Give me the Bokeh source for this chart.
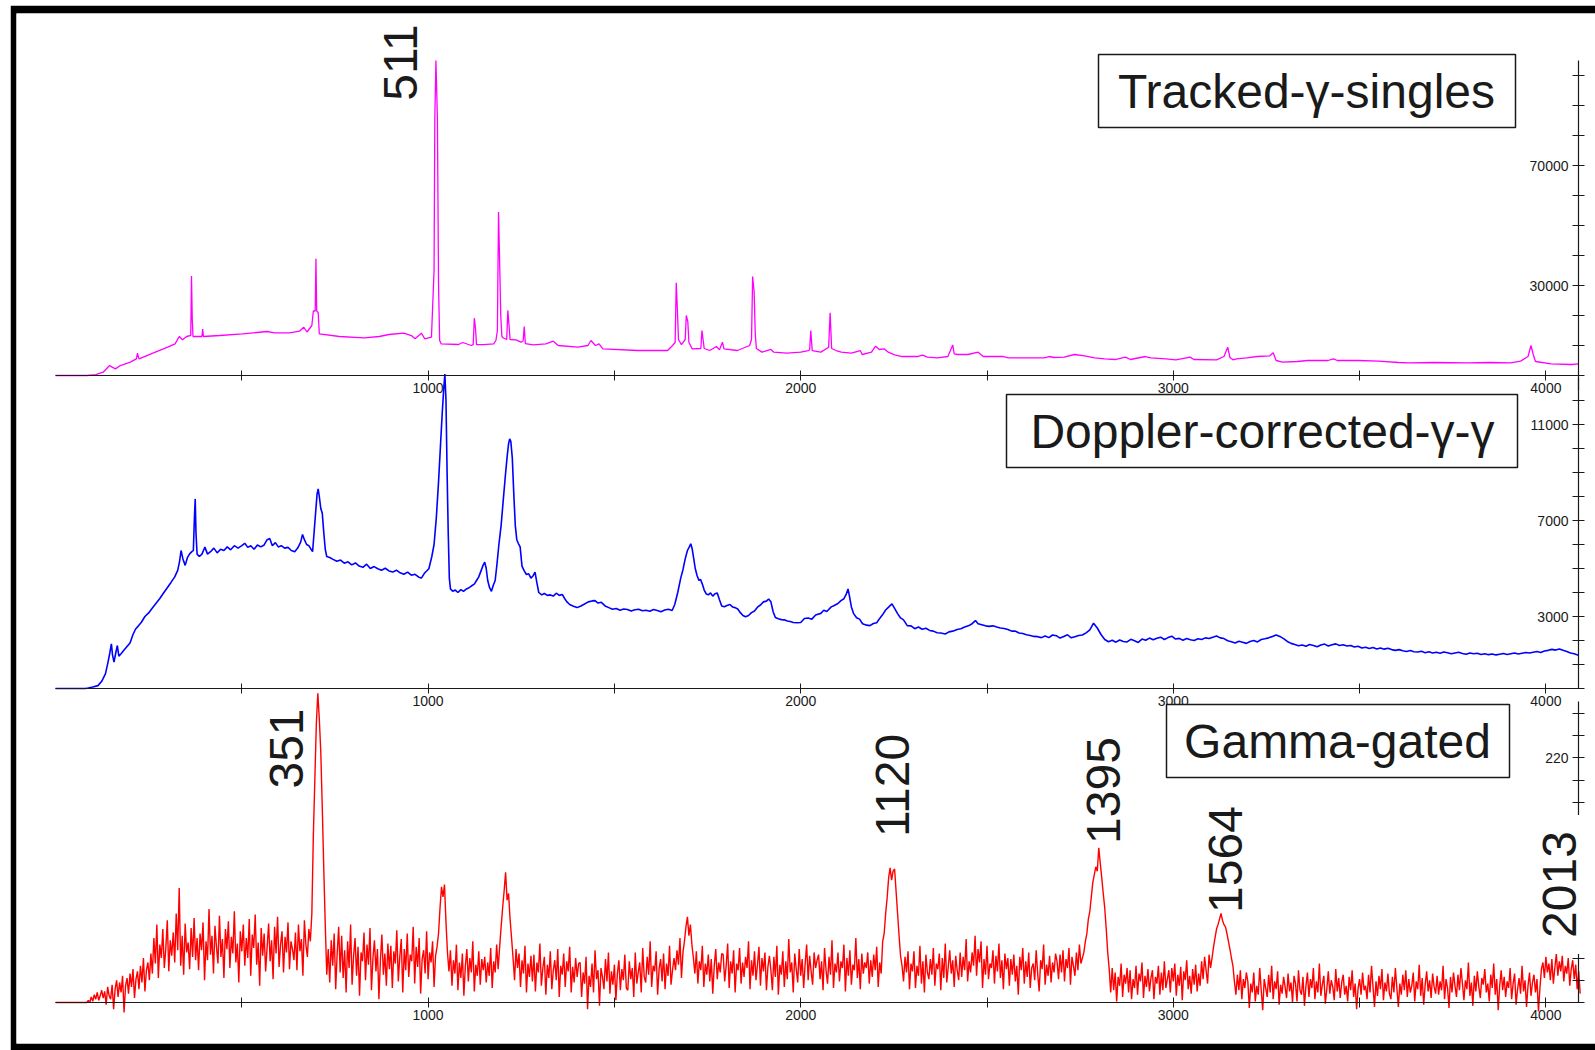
from math import pi
from bokeh.plotting import figure
from bokeh.models import Range1d, LinearAxis, FixedTicker, Label, BoxAnnotation
from bokeh.embed import file_html
from bokeh.resources import INLINE

# ---------------- data (channels, counts) ----------------
mag_ch = [
    0, 85, 108, 128, 145, 152, 161, 174, 201, 217,
    220, 224, 268, 301, 321, 332, 341, 352, 361, 363,
    365, 367, 369, 393, 395, 397, 441, 502, 568, 588,
    628, 655, 666, 675, 688, 692, 697, 699, 701, 705,
    708, 762, 828, 869, 895, 935, 955, 965, 982, 991,
    1009, 1016, 1018, 1021, 1025, 1028, 1031, 1035, 1082, 1093,
    1116, 1121, 1124, 1127, 1130, 1149, 1176, 1182, 1186, 1189,
    1192, 1195, 1198, 1202, 1211, 1214, 1217, 1220, 1236, 1249,
    1255, 1258, 1261, 1282, 1316, 1336, 1349, 1402, 1429, 1437,
    1449, 1459, 1469, 1563, 1643, 1656, 1663, 1666, 1669, 1672,
    1680, 1690, 1693, 1697, 1700, 1709, 1732, 1735, 1738, 1741,
    1756, 1774, 1782, 1790, 1794, 1830, 1863, 1868, 1871, 1875,
    1878, 1881, 1896, 1920, 1928, 1963, 2000, 2020, 2024, 2027,
    2031, 2054, 2075, 2079, 2083, 2095, 2109, 2136, 2160, 2165,
    2190, 2201, 2211, 2224, 2235, 2252, 2272, 2313, 2327, 2340,
    2367, 2395, 2408, 2412, 2422, 2449, 2476, 2490, 2544, 2558,
    2653, 2667, 2680, 2707, 2735, 2762, 2789, 2816, 2844, 2871,
    2885, 2925, 2940, 2980, 3007, 3045, 3055, 3116, 3136, 3146,
    3152, 3160, 3170, 3197, 3225, 3259, 3268, 3276, 3293, 3333,
    3361, 3415, 3430, 3440, 3497, 3551, 3605, 3633, 3700, 3790,
    3850, 3905, 3932, 3952, 3960, 3966, 3972, 4014, 4068, 4087,
]
mag_counts = [
    0, 0, 300, 1100, 3330, 2780, 2220, 3330, 4440, 5560,
    7450, 5560, 7780, 9440, 10560, 13000, 11900, 13000, 13300, 13300,
    33200, 19000, 13000, 13000, 15500, 13000, 13330, 13900, 14670, 14200,
    14220, 14780, 16100, 14500, 16670, 21500, 21500, 38900, 21500, 21000,
    13900, 13000, 12560, 13000, 13670, 14100, 13300, 12240, 14100, 12240,
    12780, 35000, 85560, 105000, 85560, 30560, 11670, 10560, 10330, 11000,
    10000, 10300, 19100, 16000, 10300, 10300, 10560, 11670, 15000, 54500,
    38000, 20000, 13000, 12500, 12000, 21700, 17000, 12000, 11900, 11100,
    11500, 16300, 10600, 10200, 10560, 11440, 10000, 9440, 10000, 11670,
    10000, 10560, 8890, 8330, 8330, 10000, 11000, 30900, 22000, 12000,
    10300, 12000, 20000, 18000, 11000, 8890, 9000, 15000, 12000, 9000,
    8330, 9670, 8560, 11100, 8900, 8330, 10000, 12000, 33000, 28000,
    14000, 9000, 7780, 8670, 7780, 7450, 7780, 8330, 8500, 15000,
    8300, 7780, 9440, 20900, 9000, 8330, 7780, 7450, 8330, 7000,
    7780, 9780, 8670, 8890, 7780, 6890, 6330, 6330, 6780, 6110,
    5890, 6330, 10200, 7200, 7000, 7000, 7780, 6330, 6330, 5890,
    5890, 6330, 6000, 6110, 7000, 6560, 5890, 5560, 5330, 6110,
    5330, 6330, 5890, 5560, 5220, 6110, 5330, 5220, 6330, 9440,
    6000, 5220, 5560, 5890, 6330, 6560, 7560, 5000, 4450, 4670,
    5000, 5000, 5560, 5000, 5000, 4780, 4330, 4220, 4330, 4220,
    4330, 4220, 4780, 6330, 10000, 7000, 4670, 3890, 3670, 3890,
]

blue_ch = [
    0, 80, 88, 100, 114, 124, 134, 141, 146, 150,
    153, 157, 162, 166, 170, 176, 184, 192, 200, 208,
    215, 222, 230, 240, 250, 260, 270, 280, 290, 300,
    310, 320, 328, 333, 337, 342, 348, 354, 360, 366,
    370, 373, 375, 377, 380, 386, 393, 401, 408, 416,
    425, 434, 443, 452, 461, 470, 480, 490, 500, 508,
    516, 524, 533, 542, 551, 560, 568, 575, 582, 590,
    598, 606, 615, 624, 633, 642, 650, 658, 663, 668,
    674, 680, 686, 690, 694, 698, 702, 705, 708, 712,
    716, 720, 724, 728, 736, 745, 755, 765, 775, 785,
    795, 805, 815, 825, 835, 845, 855, 865, 875, 885,
    895, 905, 915, 925, 935, 945, 955, 965, 975, 982,
    990, 1002, 1010, 1016, 1022, 1028, 1033, 1038, 1042, 1045,
    1048, 1051, 1054, 1057, 1060, 1066, 1073, 1080, 1088, 1095,
    1103, 1110, 1117, 1124, 1130, 1136, 1142, 1148, 1152, 1156,
    1160, 1165, 1170, 1175, 1180, 1185, 1190, 1196, 1202, 1207,
    1212, 1216, 1219, 1222, 1226, 1230, 1234, 1238, 1242, 1247,
    1252, 1258, 1264, 1270, 1276, 1282, 1287, 1292, 1297, 1305,
    1312, 1320, 1328, 1336, 1344, 1352, 1360, 1366, 1372, 1380,
    1390, 1400, 1410, 1420, 1430, 1440, 1448, 1456, 1465, 1475,
    1485, 1495, 1505, 1515, 1525, 1535, 1545, 1555, 1565, 1575,
    1585, 1595, 1605, 1615, 1625, 1635, 1645, 1655, 1662, 1670,
    1678, 1684, 1690, 1696, 1701, 1705, 1709, 1713, 1717, 1722,
    1727, 1731, 1736, 1741, 1746, 1752, 1758, 1764, 1770, 1776,
    1782, 1788, 1795, 1802, 1810, 1817, 1824, 1831, 1838, 1845,
    1852, 1860, 1868, 1876, 1884, 1892, 1900, 1908, 1914, 1920,
    1926, 1932, 1940, 1948, 1956, 1964, 1972, 1980, 1990, 2000,
    2010, 2020, 2030, 2040, 2054, 2062, 2070, 2082, 2090, 2100,
    2108, 2116, 2122, 2127, 2131, 2136, 2142, 2150, 2158, 2166,
    2177, 2186, 2195, 2204, 2212, 2220, 2228, 2236, 2245, 2252,
    2260, 2268, 2276, 2286, 2296, 2306, 2316, 2326, 2336, 2346,
    2356, 2366, 2376, 2388, 2398, 2408, 2420, 2430, 2440, 2450,
    2460, 2469, 2476, 2486, 2496, 2506, 2516, 2526, 2536, 2546,
    2556, 2566, 2576, 2586, 2596, 2606, 2616, 2626, 2636, 2646,
] + list(range(2656, 4077, 10)) + [4087]
blue_counts = [
    0, 0, 20, 60, 120, 300, 610, 1100, 1500, 1860,
    1400, 1100, 1500, 1790, 1350, 1450, 1600, 1750, 1900, 2250,
    2480, 2600, 2750, 3000, 3150, 3350, 3550, 3750, 3980, 4200,
    4420, 4650, 4920, 5300, 5750, 5400, 5130, 5450, 5610, 5700,
    5750, 7200, 7900, 6500, 5600, 5500, 5600, 5890, 5600, 5700,
    5850, 5650, 5800, 5750, 5900, 5780, 5950, 5850, 5950, 6050,
    5880, 5950, 5800, 5980, 5900, 5980, 6200, 6250, 5950, 6080,
    5900, 5950, 5850, 5880, 5750, 5700, 5850, 6100, 6420, 6200,
    6000, 5950, 5800, 5700, 6500, 7300, 8100, 8320, 8000, 7500,
    7300, 6500, 5800, 5500, 5460, 5380, 5300, 5350, 5220, 5280,
    5150, 5230, 5100, 5050, 5180, 5000, 5080, 4990, 4930, 5010,
    4900, 4850, 4930, 4820, 4760, 4850, 4720, 4760, 4640, 4600,
    4800, 4990, 5500, 6000, 7100, 8600, 10050, 11500, 12500, 13100,
    12000, 9000, 6500, 4600, 4150, 4050, 4100, 4000, 4120, 4050,
    4150, 4200, 4280, 4350, 4500, 4650, 4900, 5150, 5260, 5000,
    4500, 4200, 4050, 4300, 4500, 5200, 6000, 6800, 7900, 8800,
    9640, 10200, 10400, 10300, 9600, 8100, 6800, 6200, 6050, 5900,
    5100, 4900, 4750, 4780, 4600, 4700, 4850, 4400, 4000, 3900,
    3960, 3880, 3900, 3850, 3970, 3880, 3920, 3760, 3620, 3500,
    3430, 3370, 3440, 3520, 3610, 3650, 3660, 3560, 3590, 3440,
    3370, 3300, 3330, 3260, 3310, 3290, 3230, 3280, 3300, 3240,
    3260, 3220, 3290, 3250, 3200, 3270, 3300, 3250, 3500, 4000,
    4600, 4950, 5400, 5750, 5900, 6030, 5800, 5400, 5000, 4700,
    4500, 4550, 4350, 4100, 3950, 3900, 3980, 3850, 3950, 3980,
    3700, 3440, 3410, 3460, 3500, 3400, 3370, 3310, 3160, 3040,
    2990, 3040, 3160, 3230, 3390, 3480, 3610, 3640, 3730, 3610,
    3200, 2960, 2910, 2870, 2860, 2810, 2790, 2750, 2740, 2750,
    2920, 2940, 2890, 3060, 3130, 3260, 3210, 3400, 3460, 3540,
    3660, 3740, 3920, 4150, 3840, 3400, 3120, 2950, 2890, 2700,
    2640, 2620, 2710, 2740, 2920, 3080, 3270, 3390, 3530, 3340,
    3120, 2940, 2860, 2620, 2610, 2490, 2560, 2470, 2510, 2420,
    2390, 2320, 2310, 2270, 2360, 2390, 2460, 2490, 2560, 2610,
    2700, 2830, 2700, 2660, 2610, 2590, 2610, 2560, 2520, 2500,
    2460, 2390, 2390, 2310, 2290, 2240, 2210, 2170, 2160, 2120,
    2190, 2120, 2230, 2200, 2100, 2170, 2240, 2110, 2160, 2210,
    2230, 2320, 2440, 2720, 2520, 2250, 2040, 1950, 2010, 1930,
    2020, 1960, 1940, 2050, 1990, 1920, 2060, 2010, 2100, 2030,
    2090, 2140, 2040, 2120, 2180, 2060, 2090, 2010, 2080, 2030,
    2000, 2070, 2040, 2110, 2080, 2140, 2190, 2110, 2080, 1990,
    1950, 1900, 1970, 1930, 1880, 1960, 2000, 1940, 2040, 2070,
    2110, 2170, 2230, 2170, 2080, 1960, 1880, 1830, 1780, 1810,
    1760, 1830, 1790, 1740, 1810, 1850, 1770, 1820, 1860, 1790,
    1820, 1770, 1790, 1730, 1760, 1690, 1720, 1670, 1710, 1650,
    1690, 1640, 1680, 1620, 1590, 1620, 1570, 1540, 1580, 1530,
    1520, 1550, 1490, 1530, 1480, 1510, 1470, 1520, 1490, 1450,
    1480, 1510, 1460, 1430, 1480, 1450, 1470, 1420, 1450, 1410,
    1440, 1400, 1430, 1460, 1420, 1450, 1480, 1440, 1470, 1500,
    1480, 1510, 1540, 1500, 1560, 1590, 1630, 1600, 1650, 1590,
    1540, 1480, 1450, 1390,
]

red_ch = list(range(0, 4096, 4))
red_counts = [
    0, 0, 0, 0, 0, 0, 0, 0, 0, 0, 0, 0, 0, 0, 0, 0, 0, 0, 0, 0, 0, 0, 2, 0, 5, 1, 7, 3, 9, 2, 6, 11,
    4, 10, -2, 14, 6, 3, 16, -6, 12, 20, 5, 18, 9, 24, -9, 15, 22, 8, 26, 14, 30, 4, 21, 28, 12, 33, 18, 40, 10, 29, 36, 20,
    44, 26, 58, 35, 70, 22, 52, 40, 66, 31, 48, 74, 28, 56, 42, 63, 36, 80, 47, 103, 33, 60, 25, 71, 45, 54, 30, 67, 41, 76, 38, 58,
    29, 62, 47, 72, 20, 55, 38, 84, 43, 60, 26, 69, 50, 35, 78, 41, 57, 22, 66, 48, 73, 31, 59, 44, 82, 36, 53, 18, 64, 46, 70, 33,
    58, 40, 75, 24, 61, 49, 79, 34, 54, 15, 67, 42, 62, 28, 50, 71, 37, 56, 21, 68, 44, 77, 32, 52, 64, 27, 59, 45, 72, 30, 55, 48,
    38, 63, 29, 70, 46, 57, 24, 74, 52, 41, 66, 55, 80, 150, 200, 250, 278, 255, 225, 175, 120, 70, 25, 48, 18, 56, 33, 62, 12, 44, 68, 27,
    60, 22, 47, 9, 55, 31, 70, 16, 42, 58, 24, 50, 6, 45, 37, 63, 20, 52, 34, 67, 11, 40, 56, 28, 48, 3, 38, 61, 25, 44, 15, 53,
    30, 51, 13, 46, 35, 65, 19, 41, 57, 9, 48, 29, 62, 23, 43, 37, 68, 17, 50, 32, 58, 8, 39, 47, 26, 64, 21, 45, 36, 55, 14, 42,
    50, 62, 85, 104, 95, 106, 72, 45, 28, 47, 15, 38, 26, 52, 11, 36, 22, 44, 6, 33, 48, 19, 40, 27, 55, 10, 34, 24, 46, 16, 39, 29,
    41, 18, 36, 24, 49, 13, 37, 27, 52, 30, 50, 68, 85, 100, 117, 92, 98, 75, 58, 40, 20, 48, 31, 44, 14, 38, 26, 51, 9, 35, 23, 42,
    19, 43, 10, 36, 27, 53, 15, 31, 41, 7, 34, 22, 46, 12, 29, 38, 20, 48, 5, 33, 25, 44, 14, 37, 28, 50, 9, 32, 18, 40, 23, 35,
    36, 5, 27, 17, 41, -6, 24, 14, 35, 9, 47, 21, 29, -3, 31, 23, 12, 39, 19, 45, 8, 28, 16, 34, 2, 26, 38, 11, 30, 20, 43, 13,
    11, 37, 21, 31, 5, 45, 17, 27, 36, 9, 49, 23, 18, 41, 25, 55, 14, 33, 28, 46, 7, 30, 39, 19, 44, 12, 35, 24, 51, 16, 29, 40,
    29, 47, 34, 58, 22, 45, 55, 68, 77, 60, 70, 52, 40, 26, 46, 17, 37, 29, 51, 14, 35, 25, 43, 19, 39, 8, 33, 48, 21, 36, 27, 44,
    43, 19, 33, 53, 13, 37, 26, 47, 9, 35, 29, 49, 17, 36, 23, 41, 31, 55, 12, 38, 24, 46, 20, 34, 50, 15, 40, 28, 45, 11, 32, 42,
    29, 11, 41, 23, 51, 7, 34, 25, 46, 14, 37, 21, 57, 27, 36, 9, 44, 30, 18, 48, 24, 39, 13, 35, 52, 20, 42, 28, 16, 45, 31, 38,
    43, 21, 37, 11, 49, 29, 17, 41, 25, 56, 13, 35, 27, 45, 19, 37, 31, 52, 10, 40, 24, 47, 16, 34, 29, 58, 22, 39, 12, 44, 26, 36,
    31, 45, 17, 38, 23, 43, 29, 50, 14, 36, 26, 55, 62, 80, 94, 112, 121, 110, 118, 120, 100, 80, 60, 42, 33, 19, 41, 27, 46, 12, 35, 28,
    46, 13, 33, 24, 51, 17, 37, 9, 43, 27, 21, 39, 25, 49, 15, 35, 30, 44, 11, 40, 22, 53, 18, 32, 47, 26, 38, 14, 42, 29, 20, 45,
    23, 41, 29, 57, 19, 37, 27, 45, 33, 60, 24, 48, 36, 55, 13, 39, 25, 51, 21, 35, 31, 47, 17, 42, 28, 53, 22, 38, 12, 44, 30, 40,
    15, 39, 25, 43, 19, 33, 7, 41, 29, 49, 17, 37, 23, 45, 13, 31, 35, 20, 47, 26, 10, 38, 30, 52, 16, 34, 24, 42, 18, 36, 27, 44,
    37, 21, 43, 27, 47, 19, 39, 31, 49, 16, 41, 33, 24, 45, 29, 52, 35, 40, 45, 55, 62, 75, 82, 95, 108, 115, 122, 118, 139, 125, 112, 98,
    85, 66, 45, 30, 9, 31, 11, 27, 1, 23, 15, 35, 5, 25, 17, 31, 9, 29, 3, 21, 13, 33, 7, 26, 19, 36, 4, 24, 14, 30, 10, 22,
    29, 3, 23, 17, 33, 7, 27, 11, 37, 13, 21, 29, 9, 31, 19, 35, 6, 25, 15, 32, 2, 28, 20, 38, 12, 24, 8, 30, 16, 34, 10, 26,
    15, 37, 21, 41, 29, 17, 43, 31, 40, 50, 58, 66, 70, 75, 80, 74, 70, 68, 62, 55, 48, 40, 33, 19, 7, 25, 11, 29, 3, 21, 13, 27,
    19, -5, 17, 9, 27, 1, 15, 7, 31, 11, -7, 21, 13, 5, 25, 9, 33, 3, 19, 12, 28, -2, 16, 8, 23, 14, 4, 26, 10, 18, 0, 24,
    17, 1, 29, 11, 7, 23, -3, 15, 27, 5, 21, 13, 31, 3, 19, 9, 35, 6, 16, 24, -1, 12, 28, 8, 20, 14, 2, 30, 10, 22, 4, 18,
    25, 7, 15, 1, 23, 11, 29, 5, 17, -6, 13, 21, 7, 27, 11, 15, 3, 25, 9, 33, 14, -4, 19, 6, 24, 12, 30, 2, 18, 10, 26, 8,
    3, 23, 9, 31, 13, -4, 17, 7, 25, 11, 29, 5, 21, 9, 15, 27, 1, 19, 12, 34, 6, 22, -2, 16, 28, 10, 20, 4, 26, 14, 8, 24,
    7, 19, 11, 33, 3, 21, 13, -5, 23, 9, 27, 15, 5, 25, 11, 31, 17, 2, 20, 12, 36, 6, 18, -3, 24, 10, 28, 14, 4, 22, 16, 30,
    9, 17, 1, 25, 13, 35, 7, 21, -7, 15, 29, 11, 23, 5, 19, 13, 31, 3, 17, 26, -2, 12, 22, 8, 33, 10, 20, -4, 15, 27, 6, 18,
    25, 9, 21, -8, 13, 30, 36, 22, 41, 27, 35, 20, 39, 17, 31, 44, 24, 37, 28, 42, 19, 33, 26, 40, 15, 30, 38, 21, 34, 12, 28, 8,
]

x_tick_labels = [1000, 2000, 3000, 4000]
x_minor = [500, 1500, 2500, 3500]
p1_labels = [30000, 70000]
p1_minor = [0, 10000, 20000, 40000, 50000, 60000, 80000, 90000, 100000]
p2_labels = [3000, 7000, 11000]
p2_minor = [0, 1000, 2000, 4000, 5000, 6000, 8000, 9000, 10000, 12000]
p3_labels = [220]
p3_minor = [0, 20, 40, 60, 80, 100, 120, 140, 160, 180, 200, 240, 260]

panel_titles = ["Tracked-\u03b3-singles", "Doppler-corrected-\u03b3-\u03b3", "Gamma-gated"]
peak_labels = ["511", "351", "1120", "1395", "1564", "2013"]


def _pair(a, b):
    n = min(len(a), len(b))
    return a[:n], b[:n]


mag_ch, mag_counts = _pair(mag_ch, mag_counts)
blue_ch, blue_counts = _pair(blue_ch, blue_counts)
red_ch, red_counts = _pair(red_ch, red_counts)

# ---------------- layout geometry ----------------
X0, PXCH = 55.0, 0.3726          # page px of channel 0, px per channel
FL, FR, FT, FB = 16, 1595, 13, 1043
X_END = (1578 - X0) / PXCH        # channel under the right-hand y axes


def ch_of(px):
    return (px - X0) / PXCH


def prange(zero_px, per_px):
    return Range1d(start=(zero_px - FB) * per_px, end=(zero_px - FT) * per_px)


p = figure(width=1585, height=1045, output_backend="svg", toolbar_location=None,
           x_range=Range1d(ch_of(FL), ch_of(FR)), y_range=Range1d(FB, FT),
           x_axis_location=None, y_axis_location=None,
           min_border_left=6, min_border_right=0, min_border_top=8, min_border_bottom=7,
           border_fill_color="black", background_fill_color="white",
           outline_line_color=None, margin=(5, 0, 0, 10))
p.xgrid.grid_line_color = None
p.ygrid.grid_line_color = None

p.extra_y_ranges = {"p1": prange(375, 10000 / 30.0),
                    "p2": prange(688, 1000 / 24.0),
                    "p3": prange(1002, 20 / 22.25)}
p.extra_x_ranges = {"px": Range1d(FL, FR)}

p.line(mag_ch, mag_counts, y_range_name="p1", line_color="#ff00ff", line_width=1.3)
p.line(blue_ch, blue_counts, y_range_name="p2", line_color="#0000ff", line_width=1.6)
p.line(red_ch, red_counts, y_range_name="p3", line_color="#ff0000", line_width=1.4)

INK = "#1a1a1a"


def style_axis(ax, tick, standoff):
    ax.axis_line_color = INK
    ax.axis_line_width = 1.2
    ax.major_tick_line_color = INK
    ax.minor_tick_line_color = INK
    ax.major_tick_in = tick
    ax.major_tick_out = tick
    ax.minor_tick_in = tick
    ax.minor_tick_out = tick
    ax.major_label_standoff = standoff
    ax.major_label_text_font = "Liberation Sans"
    ax.major_label_text_font_size = "14px"
    ax.major_label_text_color = INK


for rname in ["p1", "p2", "p3"]:
    ax = LinearAxis(y_range_name=rname, fixed_location=0, bounds=(0, X_END),
                    ticker=FixedTicker(ticks=x_tick_labels, minor_ticks=x_minor))
    style_axis(ax, 5, 2)
    p.add_layout(ax, "below")

for rname, labs, minor, bnds in [("p1", p1_labels, p1_minor, (-5000, 105000)),
                                 ("p2", p2_labels, p2_minor, (0, 12950)),
                                 ("p3", p3_labels, p3_minor, (0, 271))]:
    ay = LinearAxis(y_range_name=rname, fixed_location=X_END, bounds=bnds,
                    ticker=FixedTicker(ticks=labs, minor_ticks=minor))
    style_axis(ay, 6, 4)
    p.add_layout(ay, "left")

# ---------------- panel title boxes ----------------
boxes = [(1098, 1515, 54, 127, 1306, 91),
         (1006, 1517, 394, 467, 1262, 431),
         (1166, 1509, 704, 777, 1337, 741)]
for (l, r, t, b, cx, cy), title in zip(boxes, panel_titles):
    p.add_layout(BoxAnnotation(left=l, right=r, top=t, bottom=b, x_range_name="px",
                               fill_color="white", fill_alpha=1.0,
                               line_color=INK, line_alpha=1.0, line_width=1.5))
    p.add_layout(Label(x=cx, y=cy, x_range_name="px", text=title,
                       text_font="Liberation Sans", text_font_size="48px",
                       text_color=INK, text_align="center", text_baseline="middle"))

# ---------------- peak energy labels (rotated) ----------------
peak_pos = [(400, 62), (286, 748), (892, 785), (1103, 790), (1225, 859), (1559, 884)]
for (x, y), txt in zip(peak_pos, peak_labels):
    extra = {}
    if txt == "2013":
        extra = dict(background_fill_color="white", background_fill_alpha=1.0, padding=16)
    p.add_layout(Label(x=x, y=y, x_range_name="px", text=txt, angle=pi / 2,
                       text_font="Liberation Sans", text_font_size="48px",
                       text_color=INK, text_align="center", text_baseline="middle",
                       **extra))

open("out.html", "w").write(file_html(p, INLINE))
